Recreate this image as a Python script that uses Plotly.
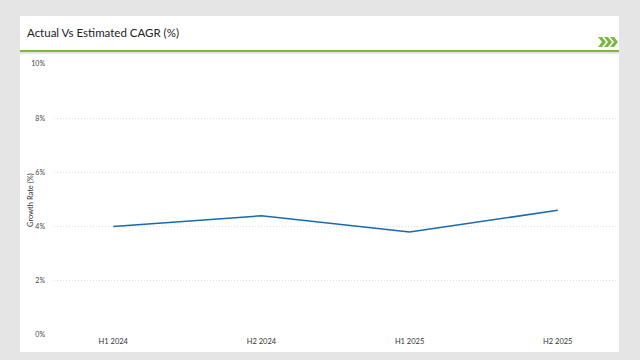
import plotly.graph_objects as go

periods = ["H1 2024", "H2 2024", "H1 2025", "H2 2025"]
growth = [4.0, 4.4, 3.8, 4.6]
y_ticks = [0, 2, 4, 6, 8, 10]
y_tick_labels = ["0%", "2%", "4%", "6%", "8%", "10%"]

W, H = 640, 360
ML, MR, MT, MB = 54, 23, 64, 25
PW, PH = W - ML - MR, H - MT - MB


def px(x):
    return (x - ML) / PW


def py(y):
    return (H - MB - y) / PH


fig = go.Figure()
fig.add_trace(go.Scatter(
    x=periods, y=growth, mode="lines",
    line=dict(color="#1a69ad", width=1.5),
    hoverinfo="skip", showlegend=False,
))

shapes = [
    dict(type="rect", xref="paper", yref="paper", x0=px(20), x1=px(619), y0=py(52), y1=py(16),
         fillcolor="white", line=dict(width=0), layer="below"),
    dict(type="rect", xref="paper", yref="paper", x0=px(20), x1=px(619), y0=py(352), y1=py(54),
         fillcolor="white", line=dict(width=0), layer="below"),
    dict(type="rect", xref="paper", yref="paper", x0=px(20), x1=px(619), y0=py(52), y1=py(50),
         fillcolor="#7cb83f", line=dict(width=0), layer="above"),
]
for i in range(3):
    x0 = 598 + i * 6
    pts = [(x0, 37), (x0 + 4, 37), (x0 + 8, 42), (x0 + 4, 47), (x0, 47), (x0 + 4, 42)]
    path = "M " + " L ".join(f"{px(a)},{py(b)}" for a, b in pts) + " Z"
    shapes.append(dict(type="path", xref="paper", yref="paper", path=path,
                       fillcolor="#7cb83f", line=dict(width=0)))

FONT = "Lato, Open Sans, sans-serif"

fig.update_layout(
    width=W, height=H,
    margin=dict(l=ML, r=MR, t=MT, b=MB),
    paper_bgcolor="#e5e5e5",
    plot_bgcolor="rgba(0,0,0,0)",
    font=dict(family=FONT, color="#333"),
    shapes=shapes,
    annotations=[
        dict(text="Actual Vs Estimated CAGR (%)", xref="paper", yref="paper",
             x=px(25), y=py(32), xanchor="left", yanchor="middle", showarrow=False,
             font=dict(size=11.5, color="#222")),
        dict(text="Growth Rate (%)", xref="paper", yref="paper",
             x=px(30), y=py(200), xanchor="center", yanchor="middle", textangle=-90,
             showarrow=False, font=dict(size=7.5, color="#333")),
    ],
    xaxis=dict(
        range=[-0.4, 3.4], showgrid=False, zeroline=False, showline=False,
        ticks="", tickfont=dict(size=7.5, color="#333"), fixedrange=True,
    ),
    yaxis=dict(
        range=[0, 10], tickvals=y_ticks, ticktext=y_tick_labels,
        showgrid=True, gridcolor="#dedede", griddash="1px,2px", gridwidth=1,
        zeroline=False, showline=False, ticks="", ticklabelstandoff=8,
        tickfont=dict(size=7, color="#444"), fixedrange=True,
    ),
)

fig.write_html(
    "out.html",
    config={"displayModeBar": False},
    post_script="document.body.style.margin='0';document.body.style.background='#e5e5e5';",
)
